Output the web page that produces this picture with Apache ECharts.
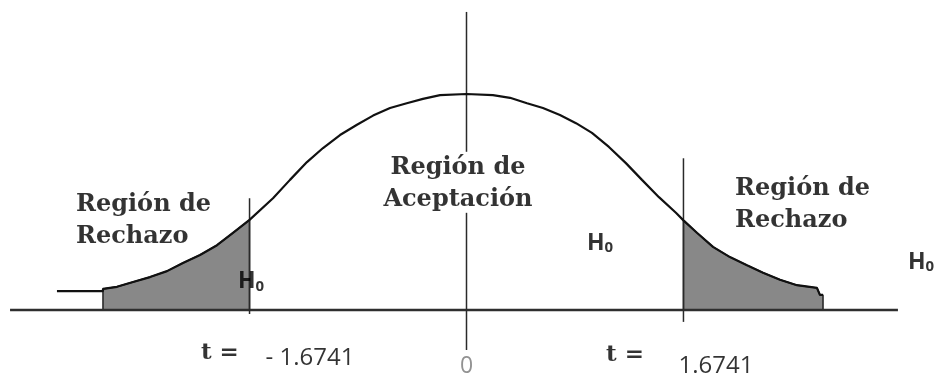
<!DOCTYPE html>
<html>
<head>
<meta charset="utf-8">
<script src="https://cdn.jsdelivr.net/npm/echarts@6/dist/echarts.min.js"></script>
<style>
  html, body { margin: 0; padding: 0; background: #fff; }
  #chart { width: 937px; height: 378px; }
</style>
</head>
<body>
<div id="chart"></div>
<script>
// curve: t value and height (peak = 0.40)
const curveT = [-3.16, -2.805, -2.805, -2.697, -2.573, -2.442, -2.311, -2.188, -2.056, -1.925, -1.802, -1.6741,
  -1.493, -1.362, -1.231, -1.107, -0.976, -0.845, -0.721, -0.590, -0.461, -0.336, -0.204, 0,
  0.204, 0.336, 0.467, 0.590, 0.721, 0.845, 0.968, 1.099, 1.230, 1.354, 1.485, 1.616, 1.6741,
  1.778, 1.902, 2.033, 2.164, 2.288, 2.419, 2.550, 2.704, 2.727, 2.751];
const curveH = [0.035, 0.035, 0.039, 0.043, 0.052, 0.061, 0.072, 0.087, 0.102, 0.120, 0.143, 0.167,
  0.207, 0.241, 0.274, 0.300, 0.324, 0.343, 0.360, 0.374, 0.383, 0.391, 0.398, 0.400,
  0.398, 0.393, 0.383, 0.374, 0.361, 0.346, 0.328, 0.302, 0.272, 0.241, 0.209, 0.180, 0.166,
  0.143, 0.117, 0.098, 0.083, 0.069, 0.056, 0.046, 0.041, 0.028, 0.028];

const critical = [-1.6741, 1.6741];      // t critico
const tailEnds = [-2.805, 2.751];        // donde termina el sombreado
const axisEnds = [-3.522, 3.329];        // eje horizontal

const regionTexts = ['Región de\nRechazo', 'Región de\nAceptación', 'Región de\nRechazo'];
const tTexts = ['t =', 't ='];
const critTexts = ['- 1.6741', '1.6741'];
const zeroText = '0';
const h0Text = '{h|H}{s|0}';

const curve = curveT.map((t, i) => [t, curveH[i]]);
const leftTail = [[tailEnds[0], 0]].concat(curve.filter((p, i) => curveT[i] >= tailEnds[0] && curveT[i] <= critical[0] && !(i === 1)), [[critical[0], 0]]);
const rightTail = [[critical[1], 0]].concat(curve.filter((p, i) => curveT[i] >= critical[1]), [[tailEnds[1], 0]]);

const chart = echarts.init(document.getElementById('chart'));

const lineColor = '#111';
const serif = 'DejaVu Serif';
const sans = 'Open Sans';

function seg(points, width, color) {
  return {
    type: 'line', data: points, symbol: 'none', silent: true, z: 4,
    lineStyle: { color: color || '#2a2a2a', width: width }
  };
}

function textPoint(t, h, text, label) {
  return { value: [t, h], label: Object.assign({ show: true, formatter: text }, label) };
}

const regionLabel = { fontFamily: serif, fontWeight: 'bold', fontSize: 24, color: '#000', lineHeight: 32 };
const h0Label = {
  rich: {
    h: { fontFamily: sans, fontWeight: 'bold', fontSize: 23, color: '#000', lineHeight: 26 },
    s: { fontFamily: sans, fontWeight: 'bold', fontSize: 15, color: '#000', lineHeight: 26, padding: [9, 0, 0, 0] }
  }
};

const option = {
  animation: false,
  grid: { left: 0, right: 0, top: 0, bottom: 0 },
  xAxis: { type: 'value', min: -3.5995, max: 3.6304, show: false, splitLine: { show: false } },
  yAxis: { type: 'value', min: -0.1259, max: 0.5741, show: false, splitLine: { show: false } },
  series: [
    {
      type: 'line', data: leftTail, symbol: 'none', silent: true, z: 2,
      lineStyle: { color: '#222', width: 1.5 },
      areaStyle: { color: '#888888', opacity: 1, origin: 0 }
    },
    {
      type: 'line', data: rightTail, symbol: 'none', silent: true, z: 2,
      lineStyle: { color: '#222', width: 1.5 },
      areaStyle: { color: '#888888', opacity: 1, origin: 0 }
    },
    {
      type: 'line', data: curve, symbol: 'none', silent: true, z: 5,
      lineStyle: { color: lineColor, width: 2.2 }
    },
    seg([[axisEnds[0], 0], [axisEnds[1], 0]], 2.5, '#2e2e2e'),
    seg([[0, 0.552], [0, 0.293]], 1.5),
    seg([[0, 0.180], [0, -0.074]], 1.5),
    seg([[critical[0], 0.207], [critical[0], -0.0074]], 1.5),
    seg([[critical[1], 0.281], [critical[1], -0.022]], 1.5),
    {
      type: 'scatter', symbolSize: 1, silent: true, z: 10,
      itemStyle: { color: 'rgba(0,0,0,0)' },
      label: { position: 'inside' },
      data: [
        textPoint(-3.013, 0.165, regionTexts[0], Object.assign({ align: 'left' }, regionLabel)),
        textPoint(-0.066, 0.234, regionTexts[1], Object.assign({ align: 'center' }, regionLabel)),
        textPoint(2.072, 0.194, regionTexts[2], Object.assign({ align: 'left' }, regionLabel)),
        textPoint(-1.903, -0.0796, tTexts[0], { fontFamily: serif, fontWeight: 'bold', fontSize: 23, color: '#000' }),
        textPoint(1.223, -0.083, tTexts[1], { fontFamily: serif, fontWeight: 'bold', fontSize: 23, color: '#000' }),
        textPoint(-1.208, -0.0889, critTexts[0], { fontFamily: sans, fontSize: 24, color: '#000' }),
        textPoint(1.925, -0.104, critTexts[1], { fontFamily: sans, fontSize: 24, color: '#000' }),
        textPoint(0, -0.104, zeroText, { fontFamily: sans, fontSize: 23, color: '#777' }),
        textPoint(-1.663, 0.052, h0Text, h0Label),
        textPoint(1.030, 0.124, h0Text, h0Label),
        textPoint(3.507, 0.089, h0Text, h0Label)
      ]
    }
  ]
};

chart.setOption(option);
</script>
</body>
</html>
